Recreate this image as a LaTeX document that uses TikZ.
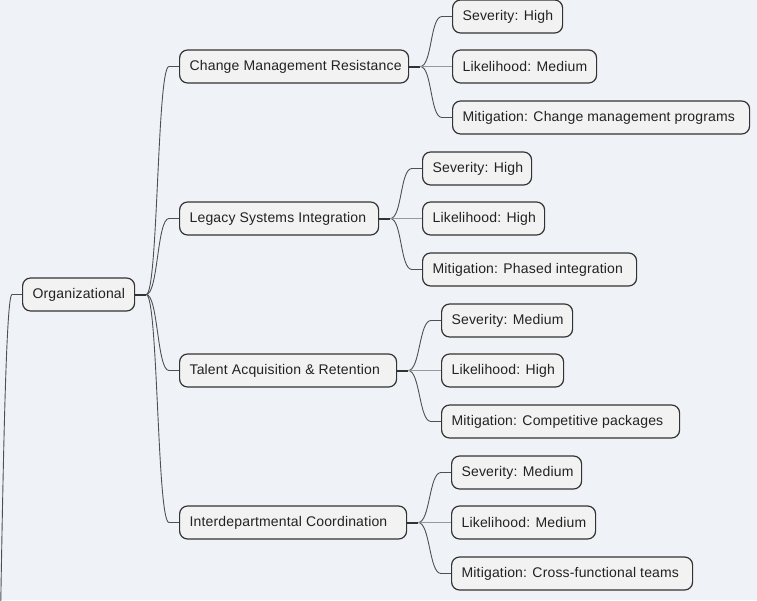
\documentclass[tikz,border=0pt]{standalone}
\usepackage{fontspec}
\setmainfont{Liberation Sans}[LetterSpace=1.2]
\definecolor{bg}{RGB}{239,243,248}
\definecolor{boxfill}{RGB}{242,242,242}
\definecolor{boxline}{RGB}{51,51,51}
\definecolor{txt}{RGB}{34,34,34}
\definecolor{linkc}{RGB}{80,80,80}
\newcommand{\lbx}[2]{\makebox[#1][l]{#2}}
\begin{document}
\begin{tikzpicture}[x=1pt,y=-1pt,
  box/.style={draw=boxline, fill=boxfill, rounded corners=8pt, line width=1.2pt,
    minimum height=33pt, inner xsep=10pt, inner ysep=0pt, anchor=west, text=txt,
    font=\fontsize{14}{16}\selectfont},
  stub/.style={draw=boxline, line width=2pt},
  link/.style={draw=linkc, line width=0.9pt},
  flat/.style={draw=gray!80, line width=1pt}]
\fill[bg] (0,0) rectangle (757,600);
\useasboundingbox (0,0) rectangle (757,600);
\clip (0,0) rectangle (757,600);

\coordinate (root) at (-12,1000);
\node[box] (org) at (22,294.5) {\lbx{92pt}{Organizational}};

\node[box] (cmr) at (179,66.5) {\lbx{209pt}{Change Management Resistance}};
\node[box] (lsi) at (179,218.5) {\lbx{179pt}{Legacy Systems Integration}};
\node[box] (tar) at (179,370.5) {\lbx{197pt}{Talent Acquisition \& Retention}};
\node[box] (ic)  at (179,522.5) {\lbx{207pt}{Interdepartmental Coordination}};

\node[box] (cmr1) at (452,16.5)  {\lbx{90pt}{Severity: High}};
\node[box] (cmr2) at (452,66.5)  {\lbx{124pt}{Likelihood: Medium}};
\node[box] (cmr3) at (452,117.5) {\lbx{277pt}{Mitigation: Change management programs}};

\node[box] (lsi1) at (422,168.5) {\lbx{89pt}{Severity: High}};
\node[box] (lsi2) at (422,218.5) {\lbx{102pt}{Likelihood: High}};
\node[box] (lsi3) at (422,269.5) {\lbx{194pt}{Mitigation: Phased integration}};

\node[box] (tar1) at (441,320.5) {\lbx{111pt}{Severity: Medium}};
\node[box] (tar2) at (441,370.5) {\lbx{102pt}{Likelihood: High}};
\node[box] (tar3) at (441,421.5) {\lbx{218pt}{Mitigation: Competitive packages}};

\node[box] (ic1) at (451,472.5) {\lbx{110pt}{Severity: Medium}};
\node[box] (ic2) at (451,522.5) {\lbx{124pt}{Likelihood: Medium}};
\node[box] (ic3) at (451,573.5) {\lbx{221pt}{Mitigation: Cross-functional teams}};

% connector from off-picture parent
\draw[link] (root) .. controls +(12,0) and +(-12,0) .. ([xshift=-10pt]org.west) -- (org.west);

% stubs
\foreach \p in {org,cmr,lsi,tar,ic}{
  \draw[stub] (\p.east) -- ([xshift=11pt]\p.east) coordinate (\p-s);
}

% curved links
\foreach \p/\c in {org/cmr,org/lsi,org/tar,org/ic,
                   cmr/cmr1,cmr/cmr3,lsi/lsi1,lsi/lsi3,tar/tar1,tar/tar3,ic/ic1,ic/ic3}{
  \draw[link] (\p-s) .. controls +(12,0) and +(-12,0) .. ([xshift=-10pt]\c.west) -- (\c.west);
}
% straight links to middle children
\foreach \p/\c in {cmr/cmr2,lsi/lsi2,tar/tar2,ic/ic2}{
  \draw[flat] (\p-s) -- (\c.west);
}
\end{tikzpicture}
\end{document}
